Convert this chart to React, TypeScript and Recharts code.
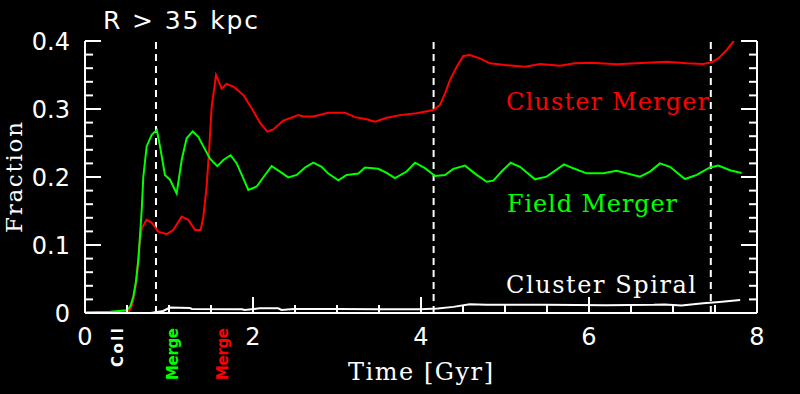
import React from 'react';
import { LineChart, Line, XAxis, YAxis, ReferenceLine } from 'recharts';

// ---- data ----
const fieldMergerTime = [0, 0.3, 0.5, 0.54, 0.575, 0.605, 0.635, 0.675, 0.694, 0.734, 0.794, 0.855, 0.893, 0.952, 1.012, 1.091, 1.151, 1.21, 1.282, 1.349, 1.409, 1.488, 1.575, 1.647, 1.734, 1.806, 1.885, 1.944, 2.044, 2.143, 2.222, 2.321, 2.42, 2.52, 2.619, 2.718, 2.817, 2.897, 3.016, 3.115, 3.254, 3.333, 3.492, 3.591, 3.69, 3.829, 3.929, 4.048, 4.167, 4.286, 4.385, 4.524, 4.643, 4.782, 4.861, 4.96, 5.067, 5.179, 5.357, 5.496, 5.702, 5.813, 5.972, 6.17, 6.33, 6.607, 6.726, 6.845, 6.964, 7.143, 7.282, 7.44, 7.54, 7.679, 7.817];
const fieldMergerFrac = [0.001, 0.002, 0.004, 0.01, 0.024, 0.045, 0.078, 0.151, 0.2, 0.245, 0.262, 0.269, 0.245, 0.203, 0.196, 0.176, 0.225, 0.257, 0.267, 0.259, 0.245, 0.227, 0.216, 0.225, 0.232, 0.22, 0.198, 0.181, 0.186, 0.203, 0.216, 0.208, 0.1995, 0.203, 0.214, 0.221, 0.215, 0.205, 0.195, 0.203, 0.205, 0.214, 0.212, 0.206, 0.1985, 0.208, 0.221, 0.213, 0.2015, 0.203, 0.212, 0.2167, 0.205, 0.193, 0.1946, 0.208, 0.221, 0.215, 0.1966, 0.2005, 0.2186, 0.2128, 0.2054, 0.2054, 0.209, 0.2005, 0.208, 0.22, 0.215, 0.197, 0.203, 0.214, 0.2167, 0.21, 0.206];

const clusterMergerTime = [0, 0.3, 0.516, 0.55, 0.575, 0.615, 0.647, 0.675, 0.734, 0.794, 0.873, 0.972, 1.051, 1.151, 1.23, 1.31, 1.377, 1.409, 1.448, 1.48, 1.508, 1.56, 1.627, 1.687, 1.766, 1.885, 1.984, 2.083, 2.17, 2.242, 2.361, 2.54, 2.599, 2.718, 2.897, 3.095, 3.214, 3.353, 3.452, 3.591, 3.75, 3.948, 4.147, 4.226, 4.286, 4.345, 4.425, 4.504, 4.583, 4.702, 4.821, 5.0, 5.238, 5.417, 5.655, 5.833, 6.032, 6.33, 6.567, 6.925, 7.163, 7.36, 7.46, 7.54, 7.639, 7.718, 7.8];
const clusterMergerFrac = [0, 0, 0.001, 0.008, 0.019, 0.049, 0.0975, 0.1245, 0.137, 0.133, 0.1196, 0.116, 0.122, 0.1417, 0.137, 0.122, 0.122, 0.1417, 0.186, 0.2446, 0.303, 0.35, 0.33, 0.3368, 0.333, 0.3206, 0.301, 0.28, 0.2667, 0.27, 0.283, 0.291, 0.289, 0.289, 0.2946, 0.2946, 0.288, 0.285, 0.2814, 0.287, 0.291, 0.2936, 0.2985, 0.306, 0.323, 0.3426, 0.3622, 0.378, 0.3794, 0.3745, 0.3672, 0.3647, 0.3622, 0.3662, 0.3637, 0.3672, 0.368, 0.3657, 0.3672, 0.3696, 0.3672, 0.3662, 0.3686, 0.3745, 0.3868, 0.399, 0.415];

const clusterSpiralTime = [0.78, 0.93, 1.01, 1.25, 1.27, 1.87, 1.9, 2.08, 2.3, 2.34, 2.48, 3.0, 3.5, 3.99, 4.2, 4.385, 4.58, 4.78, 5.5, 6.2, 6.77, 6.9, 7.1, 7.36, 7.55, 7.8];
const clusterSpiralFrac = [0, 0.003, 0.008, 0.0075, 0.006, 0.0055, 0.0045, 0.0069, 0.0069, 0.0045, 0.006, 0.006, 0.0055, 0.0054, 0.0065, 0.009, 0.0127, 0.012, 0.012, 0.0115, 0.012, 0.0125, 0.011, 0.0142, 0.016, 0.019];

const eventTimes = [0.845, 4.15, 7.45];

const xTicks = [0, 0.5, 1, 1.5, 2, 2.5, 3, 3.5, 4, 4.5, 5, 5.5, 6, 6.5, 7, 7.5, 8];
const xMajorTicks = [0, 2, 4, 6, 8];
const yTicks = [0, 0.02, 0.04, 0.06, 0.08, 0.1, 0.12, 0.14, 0.16, 0.18, 0.2, 0.22, 0.24, 0.26, 0.28, 0.3, 0.32, 0.34, 0.36, 0.38, 0.4];
const yMajorTicks = [0, 0.1, 0.2, 0.3, 0.4];

const toRows = (ts: number[], vs: number[]) => ts.map((t, i) => ({ t, v: vs[i] }));
const fieldData = toRows(fieldMergerTime, fieldMergerFrac);
const clusterData = toRows(clusterMergerTime, clusterMergerFrac);
const spiralData = toRows(clusterSpiralTime, clusterSpiralFrac);

const SANS = '"DejaVu Sans", sans-serif';
const SERIF = '"DejaVu Serif", serif';
const MAJOR = 16;
const MINOR = 8;

const isXMajor = (v: number) => xMajorTicks.some((m) => Math.abs(m - v) < 1e-6);
const isYMajor = (v: number) => yMajorTicks.some((m) => Math.abs(m - v) < 1e-6);

const BottomTick = (p: any) => {
  const { x, y, payload } = p;
  const major = isXMajor(payload.value);
  return (
    <g>
      <line x1={x} x2={x} y1={y} y2={y - (major ? MAJOR : MINOR)} stroke="#fff" strokeWidth={2} />
      {major && (
        <text x={x} y={y + 32} textAnchor="middle" fill="#fff" fontFamily={SANS} fontSize={24}>
          {String(payload.value)}
        </text>
      )}
    </g>
  );
};

const TopTick = (p: any) => {
  const { x, y, payload } = p;
  const major = isXMajor(payload.value);
  return <line x1={x} x2={x} y1={y} y2={y + (major ? MAJOR : MINOR)} stroke="#fff" strokeWidth={2} />;
};

const LeftTick = (p: any) => {
  const { x, y, payload } = p;
  const major = isYMajor(payload.value);
  return (
    <g>
      <line x1={x} x2={x + (major ? MAJOR : MINOR)} y1={y} y2={y} stroke="#fff" strokeWidth={2} />
      {major && (
        <text x={x - 15} y={y + 9} textAnchor="end" fill="#fff" fontFamily={SANS} fontSize={24}>
          {payload.value === 0 ? '0' : Number(payload.value).toFixed(1)}
        </text>
      )}
    </g>
  );
};

const RightTick = (p: any) => {
  const { x, y, payload } = p;
  const major = isYMajor(payload.value);
  return <line x1={x} x2={x - (major ? MAJOR : MINOR)} y1={y} y2={y} stroke="#fff" strokeWidth={2} />;
};

const axisLine = { stroke: '#fff', strokeWidth: 2 };

export default function App() {
  return (
    <div style={{ position: 'absolute', left: 0, top: 0, width: 800, height: 394, background: '#000' }}>
      <LineChart width={800} height={394} margin={{ top: 41, right: 0, bottom: 0, left: 0 }} style={{ background: '#000' }}>
        <XAxis
          xAxisId="b"
          type="number"
          dataKey="t"
          domain={[0, 8]}
          ticks={xTicks}
          interval={0}
          height={81}
          tickSize={0}
          tickMargin={0}
          tickLine={false}
          axisLine={axisLine}
          tick={<BottomTick />}
        />
        <XAxis
          xAxisId="top"
          orientation="top"
          type="number"
          dataKey="t"
          domain={[0, 8]}
          ticks={xTicks}
          interval={0}
          height={0}
          tickSize={0}
          tickMargin={0}
          tickLine={false}
          axisLine={axisLine}
          tick={<TopTick />}
        />
        <YAxis
          yAxisId="l"
          type="number"
          domain={[0, 0.4]}
          allowDataOverflow
          ticks={yTicks}
          interval={0}
          width={85}
          tickSize={0}
          tickMargin={0}
          tickLine={false}
          axisLine={axisLine}
          tick={<LeftTick />}
        />
        <YAxis
          yAxisId="r"
          orientation="right"
          type="number"
          domain={[0, 0.4]}
          allowDataOverflow
          ticks={yTicks}
          interval={0}
          width={43}
          tickSize={0}
          tickMargin={0}
          tickLine={false}
          axisLine={axisLine}
          tick={<RightTick />}
        />
        {eventTimes.map((t) => (
          <ReferenceLine key={t} x={t} xAxisId="b" yAxisId="l" stroke="#fff" strokeWidth={2} strokeDasharray="7 5" />
        ))}
        <Line xAxisId="b" yAxisId="l" data={clusterData} dataKey="v" type="linear" stroke="#ff0000" strokeWidth={2} dot={false} isAnimationActive={false} />
        <Line xAxisId="b" yAxisId="l" data={fieldData} dataKey="v" type="linear" stroke="#00ff00" strokeWidth={2} dot={false} isAnimationActive={false} />
        <Line xAxisId="b" yAxisId="l" data={spiralData} dataKey="v" type="linear" stroke="#ffffff" strokeWidth={2} dot={false} isAnimationActive={false} />

        <text x={103} y={29} fill="#fff" fontFamily={SANS} fontSize={25} textLength={155} lengthAdjust="spacing">R &gt; 35 kpc</text>
        <text x={348} y={380} fill="#fff" fontFamily={SERIF} fontSize={24} textLength={145} lengthAdjust="spacing">Time [Gyr]</text>
        <text x={22} y={233} transform="rotate(-90, 22, 233)" fill="#fff" fontFamily={SERIF} fontSize={23} textLength={111} lengthAdjust="spacing">Fraction</text>
        <text x={506} y={110} fill="#ff0000" fontFamily={SERIF} fontSize={24} textLength={203} lengthAdjust="spacing">Cluster Merger</text>
        <text x={507} y={212} fill="#00ff00" fontFamily={SERIF} fontSize={24} textLength={170} lengthAdjust="spacing">Field Merger</text>
        <text x={506} y={293} fill="#fff" fontFamily={SERIF} fontSize={24} textLength={190} lengthAdjust="spacing">Cluster Spiral</text>
        <text x={123} y={367} transform="rotate(-90, 123, 367)" fill="#fff" fontFamily={SANS} fontWeight="bold" fontSize={15} textLength={39} lengthAdjust="spacing">Coll</text>
        <text x={178} y={380} transform="rotate(-90, 178, 380)" fill="#00ff00" fontFamily={SANS} fontWeight="bold" fontSize={15} textLength={52} lengthAdjust="spacing">Merge</text>
        <text x={228} y={380} transform="rotate(-90, 228, 380)" fill="#ff0000" fontFamily={SANS} fontWeight="bold" fontSize={15} textLength={52} lengthAdjust="spacing">Merge</text>
      </LineChart>
    </div>
  );
}
